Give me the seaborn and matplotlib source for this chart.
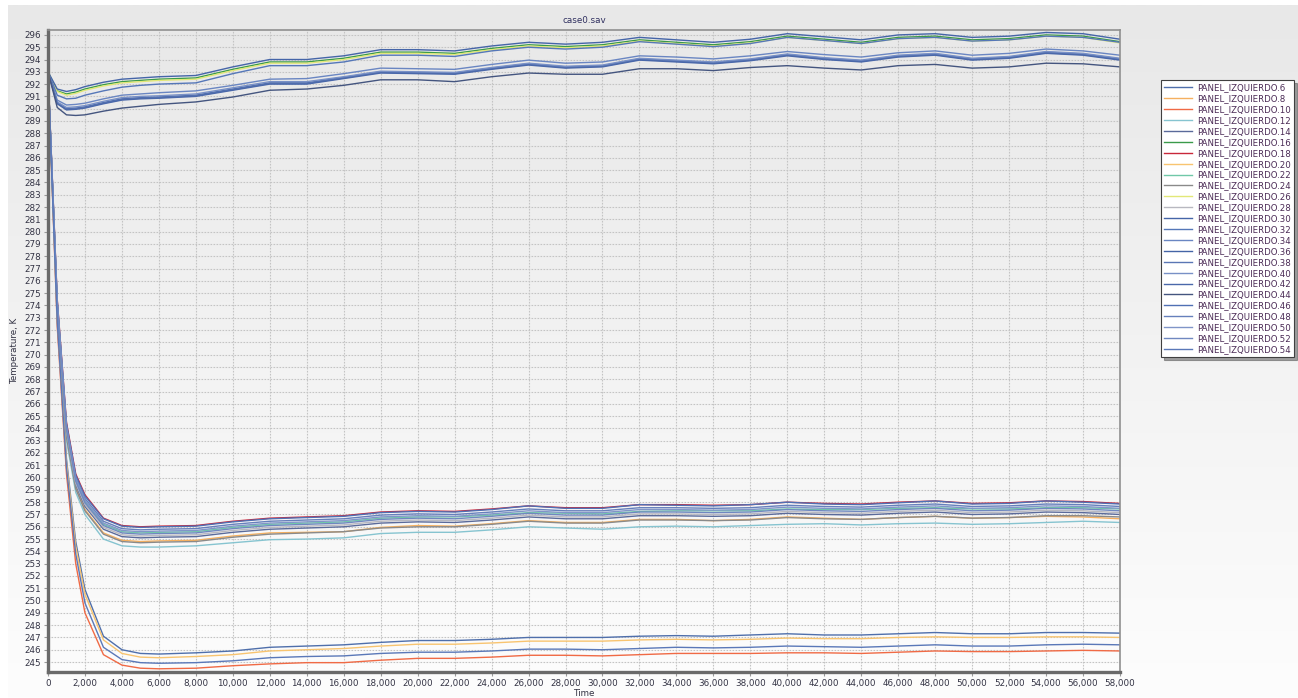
import numpy as np
import pandas as pd
import seaborn as sns
import matplotlib.pyplot as plt
from matplotlib.colors import LinearSegmentedColormap

# tiempo (s)
time = [0, 500, 1000, 1500, 2000, 3000, 4000, 5000, 6000,
        8000, 10000, 12000, 14000, 16000, 18000, 20000, 22000, 24000, 26000,
        28000, 30000, 32000, 34000, 36000, 38000, 40000, 42000, 44000, 46000,
        48000, 50000, 52000, 54000, 56000, 58000]

# temperaturas por panel (K)
p6 = [293.0, 273.0, 261.5, 254.8, 250.9, 247.1, 246.0, 245.7, 245.65, 245.75, 245.9, 246.2, 246.3, 246.4, 246.6, 246.75, 246.75, 246.85, 247.0, 247.0, 247.0, 247.1, 247.15, 247.1, 247.2, 247.3, 247.2, 247.2, 247.3, 247.4, 247.3, 247.3, 247.4, 247.4, 247.35]
p8 = [293.0, 273.7, 263.4, 259.2, 257.4, 255.5, 254.9, 254.8, 254.85, 254.9, 255.25, 255.5, 255.55, 255.6, 255.95, 256.1, 256.05, 256.25, 256.5, 256.35, 256.35, 256.6, 256.6, 256.5, 256.6, 256.8, 256.7, 256.6, 256.75, 256.85, 256.7, 256.75, 256.85, 256.8, 256.65]
p10 = [293.0, 272.3, 260.3, 253.0, 249.0, 245.6, 244.75, 244.5, 244.45, 244.5, 244.7, 244.85, 244.95, 244.95, 245.15, 245.3, 245.3, 245.4, 245.55, 245.55, 245.5, 245.6, 245.7, 245.7, 245.7, 245.75, 245.75, 245.7, 245.8, 245.9, 245.85, 245.85, 245.9, 245.95, 245.9]
p12 = [293.0, 273.5, 263.0, 258.8, 257.0, 255.0, 254.45, 254.35, 254.35, 254.45, 254.7, 254.95, 255.0, 255.1, 255.45, 255.55, 255.55, 255.75, 256.0, 255.9, 255.8, 256.0, 256.05, 256.0, 256.1, 256.2, 256.25, 256.15, 256.25, 256.3, 256.2, 256.25, 256.35, 256.45, 256.35]
p14 = [293.0, 273.8, 263.6, 259.4, 257.65, 255.8, 255.2, 255.1, 255.15, 255.2, 255.55, 255.8, 255.9, 256.0, 256.3, 256.4, 256.35, 256.55, 256.8, 256.65, 256.65, 256.9, 256.9, 256.85, 256.9, 257.1, 257.0, 256.95, 257.1, 257.2, 257.0, 257.05, 257.2, 257.15, 257.0]
p16 = [293.0, 291.45, 291.2, 291.35, 291.6, 291.95, 292.2, 292.3, 292.4, 292.5, 293.2, 293.8, 293.8, 294.1, 294.6, 294.6, 294.5, 294.9, 295.2, 295.05, 295.2, 295.6, 295.4, 295.2, 295.45, 295.9, 295.65, 295.4, 295.8, 295.9, 295.6, 295.7, 296.0, 295.9, 295.45]
p18 = [293.0, 274.5, 264.5, 260.3, 258.6, 256.7, 256.1, 256.0, 256.05, 256.1, 256.45, 256.7, 256.8, 256.9, 257.2, 257.3, 257.25, 257.45, 257.7, 257.55, 257.55, 257.8, 257.8, 257.75, 257.8, 258.0, 257.9, 257.85, 258.0, 258.1, 257.9, 257.95, 258.1, 258.05, 257.9]
p20 = [293.0, 272.8, 261.2, 254.4, 250.5, 246.8, 245.7, 245.4, 245.35, 245.45, 245.6, 245.9, 246.0, 246.1, 246.3, 246.45, 246.45, 246.55, 246.7, 246.7, 246.7, 246.8, 246.85, 246.8, 246.85, 246.95, 246.9, 246.9, 247.0, 247.05, 247.0, 247.0, 247.05, 247.05, 247.0]
p22 = [293.0, 274.1, 264.0, 259.8, 258.05, 256.2, 255.6, 255.5, 255.55, 255.6, 255.95, 256.2, 256.3, 256.4, 256.7, 256.8, 256.8, 256.95, 257.15, 257.1, 257.05, 257.25, 257.3, 257.3, 257.3, 257.45, 257.4, 257.4, 257.5, 257.55, 257.45, 257.45, 257.55, 257.55, 257.45]
p24 = [293.0, 273.6, 263.3, 259.1, 257.3, 255.4, 254.8, 254.7, 254.75, 254.8, 255.15, 255.4, 255.5, 255.6, 255.9, 256.0, 256.0, 256.2, 256.45, 256.3, 256.3, 256.55, 256.55, 256.5, 256.55, 256.75, 256.65, 256.6, 256.75, 256.85, 256.7, 256.75, 256.9, 256.9, 256.8]
p26 = [293.0, 291.4, 291.1, 291.25, 291.5, 291.85, 292.1, 292.2, 292.3, 292.4, 293.1, 293.7, 293.7, 294.0, 294.5, 294.5, 294.4, 294.8, 295.1, 294.95, 295.1, 295.5, 295.3, 295.1, 295.35, 295.8, 295.55, 295.3, 295.7, 295.8, 295.5, 295.6, 295.9, 295.8, 295.35]
p28 = [293.0, 273.9, 263.8, 259.55, 257.8, 255.95, 255.35, 255.25, 255.3, 255.35, 255.7, 255.95, 256.05, 256.15, 256.45, 256.55, 256.5, 256.7, 256.95, 256.8, 256.8, 257.05, 257.05, 257.0, 257.05, 257.25, 257.15, 257.1, 257.25, 257.35, 257.15, 257.2, 257.35, 257.3, 257.15]
p30 = [293.0, 291.6, 291.4, 291.55, 291.8, 292.15, 292.4, 292.5, 292.6, 292.7, 293.4, 294.0, 294.0, 294.3, 294.8, 294.8, 294.7, 295.1, 295.4, 295.25, 295.4, 295.8, 295.6, 295.4, 295.65, 296.1, 295.85, 295.6, 296.0, 296.1, 295.8, 295.9, 296.2, 296.1, 295.65]
p32 = [293.0, 291.1, 290.8, 290.85, 291.1, 291.45, 291.75, 291.9, 292.0, 292.1, 292.85, 293.5, 293.5, 293.8, 294.35, 294.35, 294.25, 294.7, 295.0, 294.85, 295.0, 295.45, 295.25, 295.05, 295.3, 295.8, 295.55, 295.3, 295.7, 295.8, 295.5, 295.6, 295.9, 295.8, 295.4]
p34 = [293.0, 290.7, 290.3, 290.35, 290.45, 290.8, 291.1, 291.2, 291.3, 291.45, 291.9, 292.4, 292.45, 292.85, 293.3, 293.25, 293.2, 293.6, 293.95, 293.7, 293.8, 294.3, 294.2, 294.05, 294.3, 294.65, 294.4, 294.2, 294.55, 294.7, 294.35, 294.5, 294.85, 294.7, 294.35]
p36 = [293.0, 290.5, 290.0, 290.05, 290.15, 290.5, 290.8, 290.9, 290.95, 291.1, 291.6, 292.1, 292.1, 292.55, 293.0, 292.95, 292.9, 293.3, 293.65, 293.4, 293.5, 294.05, 293.9, 293.75, 294.0, 294.4, 294.1, 293.9, 294.3, 294.45, 294.05, 294.2, 294.6, 294.45, 294.05]
p38 = [293.0, 290.45, 289.95, 290.0, 290.1, 290.45, 290.75, 290.85, 290.9, 291.05, 291.55, 292.05, 292.05, 292.5, 292.95, 292.9, 292.85, 293.25, 293.6, 293.35, 293.45, 294.0, 293.85, 293.7, 293.95, 294.35, 294.05, 293.85, 294.25, 294.4, 294.0, 294.15, 294.55, 294.4, 294.0]
p40 = [293.0, 290.55, 290.1, 290.15, 290.25, 290.6, 290.9, 291.0, 291.05, 291.2, 291.7, 292.2, 292.2, 292.6, 293.05, 293.0, 292.95, 293.35, 293.7, 293.45, 293.55, 294.1, 293.95, 293.8, 294.05, 294.45, 294.15, 293.95, 294.35, 294.5, 294.1, 294.25, 294.65, 294.5, 294.1]
p42 = [293.0, 290.4, 289.9, 289.95, 290.05, 290.4, 290.7, 290.8, 290.85, 291.0, 291.5, 292.0, 292.0, 292.45, 292.9, 292.85, 292.8, 293.2, 293.55, 293.3, 293.4, 293.95, 293.8, 293.65, 293.9, 294.3, 294.0, 293.8, 294.2, 294.35, 293.95, 294.1, 294.5, 294.35, 293.95]
p44 = [293.0, 290.1, 289.5, 289.45, 289.5, 289.8, 290.05, 290.2, 290.35, 290.55, 290.95, 291.5, 291.6, 291.9, 292.35, 292.35, 292.2, 292.6, 292.9, 292.8, 292.8, 293.25, 293.25, 293.1, 293.35, 293.5, 293.3, 293.15, 293.5, 293.6, 293.3, 293.4, 293.7, 293.65, 293.4]
p46 = [293.0, 274.4, 264.4, 260.2, 258.5, 256.65, 256.05, 255.95, 256.0, 256.05, 256.4, 256.65, 256.75, 256.85, 257.15, 257.25, 257.2, 257.4, 257.7, 257.5, 257.5, 257.8, 257.75, 257.7, 257.8, 258.0, 257.85, 257.8, 257.95, 258.1, 257.85, 257.9, 258.1, 258.0, 257.85]
p48 = [293.0, 274.3, 264.2, 260.0, 258.3, 256.45, 255.85, 255.75, 255.8, 255.85, 256.2, 256.45, 256.55, 256.65, 256.95, 257.05, 257.0, 257.2, 257.45, 257.3, 257.3, 257.55, 257.55, 257.5, 257.55, 257.75, 257.65, 257.6, 257.75, 257.85, 257.65, 257.7, 257.85, 257.8, 257.65]
p50 = [293.0, 274.2, 264.1, 259.9, 258.15, 256.3, 255.7, 255.6, 255.65, 255.7, 256.05, 256.3, 256.4, 256.5, 256.8, 256.9, 256.85, 257.05, 257.3, 257.15, 257.15, 257.4, 257.4, 257.35, 257.4, 257.6, 257.5, 257.45, 257.6, 257.7, 257.5, 257.55, 257.7, 257.65, 257.5]
p52 = [293.0, 274.0, 263.9, 259.7, 257.95, 256.1, 255.5, 255.4, 255.45, 255.5, 255.85, 256.1, 256.2, 256.3, 256.6, 256.7, 256.65, 256.85, 257.1, 256.95, 256.95, 257.2, 257.2, 257.15, 257.2, 257.4, 257.3, 257.25, 257.4, 257.5, 257.3, 257.35, 257.5, 257.45, 257.3]
p54 = [293.0, 272.6, 260.8, 253.8, 249.8, 246.2, 245.2, 244.95, 244.9, 244.95, 245.1, 245.35, 245.45, 245.5, 245.7, 245.8, 245.8, 245.9, 246.05, 246.05, 246.0, 246.1, 246.2, 246.15, 246.2, 246.3, 246.25, 246.2, 246.3, 246.4, 246.3, 246.3, 246.4, 246.45, 246.4]

panels = {6: p6, 8: p8, 10: p10, 12: p12, 14: p14, 16: p16, 18: p18, 20: p20,
          22: p22, 24: p24, 26: p26, 28: p28, 30: p30, 32: p32, 34: p34, 36: p36,
          38: p38, 40: p40, 42: p42, 44: p44, 46: p46, 48: p48, 50: p50, 52: p52, 54: p54}

colores = {6: '#4f6fab', 8: '#f5b060', 10: '#f06a45', 12: '#86c4d0', 14: '#5a6a9a',
           16: '#3a9a4a', 18: '#c8283a', 20: '#f8c470', 22: '#70c8a8', 24: '#8a8a8a',
           26: '#e2e878', 28: '#b8b8c0', 30: '#4565a8', 32: '#5577b8', 34: '#6a86c2',
           36: '#4464a6', 38: '#5a76b4', 40: '#7890c6', 42: '#4a68aa', 44: '#44557f',
           46: '#5070b4', 48: '#6680bc', 50: '#8095c8', 52: '#7088c0', 54: '#5a78b8'}

frames = []
for n, vals in panels.items():
    d = pd.DataFrame({'Time': time, 'temp': vals})
    d['serie'] = 'PANEL_IZQUIERDO.' + str(n)
    frames.append(d)
df = pd.concat(frames, ignore_index=True)
orden = ['PANEL_IZQUIERDO.' + str(n) for n in panels]
paleta = {'PANEL_IZQUIERDO.' + str(n): c for n, c in colores.items()}

W, H = 1298, 698
fig = plt.figure(figsize=(W / 100, H / 100), dpi=100)
fig.patch.set_facecolor('white')

# fondo degradado
bg = fig.add_axes([8 / W, 0, 1 - 8 / W, 1 - 5 / H])
cmap = LinearSegmentedColormap.from_list('fondo', ['#e8e8e8', '#fdfdfd'])
bg.imshow(np.linspace(0, 1, 256).reshape(-1, 1), aspect='auto', cmap=cmap,
          extent=[0, 1, 0, 1])
bg.set_axis_off()

ax = fig.add_axes([48 / W, 1 - 672 / H, (1120 - 48) / W, (672 - 30) / H])
ax.set_facecolor('none')

sns.lineplot(data=df, x='Time', y='temp', hue='serie', hue_order=orden,
             palette=paleta, estimator=None, sort=False, linewidth=1.0,
             legend=False, ax=ax)

ax.set_xlim(0, 58000)
ax.set_ylim(244.19, 296.4)
ax.set_xticks(np.arange(0, 58001, 2000))
ax.set_xticklabels(['{:,}'.format(v) for v in range(0, 58001, 2000)])
ax.set_yticks(np.arange(245, 297, 1))
ax.tick_params(axis='both', labelsize=6.3, labelcolor='#333344', color='#999999',
               length=3, width=0.8, pad=2)
ax.grid(True, color='#c4c4c4', linestyle=(0, (1.5, 1.2)), linewidth=0.8)
ax.set_axisbelow(True)

for s in ['left', 'bottom']:
    ax.spines[s].set_color('#6a6a6a')
    ax.spines[s].set_linewidth(2.4)
for s in ['top', 'right']:
    ax.spines[s].set_color('#909090')
    ax.spines[s].set_linewidth(1.2)

ax.set_title('case0.sav', fontsize=6.3, color='#303060', pad=5)
ax.set_xlabel('Time', fontsize=6.3, color='#333344', labelpad=1)
ax.set_ylabel('Temperature, K', fontsize=6.3, color='#333344', labelpad=4)

leg = ax.legend(ax.get_lines(), orden, loc='upper left',
                bbox_to_anchor=(1161 / W, 1 - 80 / H), bbox_transform=fig.transFigure,
                fontsize=6.2, frameon=True, fancybox=False, shadow=True,
                handlelength=3.2, handletextpad=0.6, labelspacing=0.22,
                borderpad=0.4, borderaxespad=0)
leg.get_frame().set_edgecolor('#404040')
leg.get_frame().set_linewidth(0.8)
for t in leg.get_texts():
    t.set_color('#4a2a55')

fig.savefig('out.png', dpi=100)
